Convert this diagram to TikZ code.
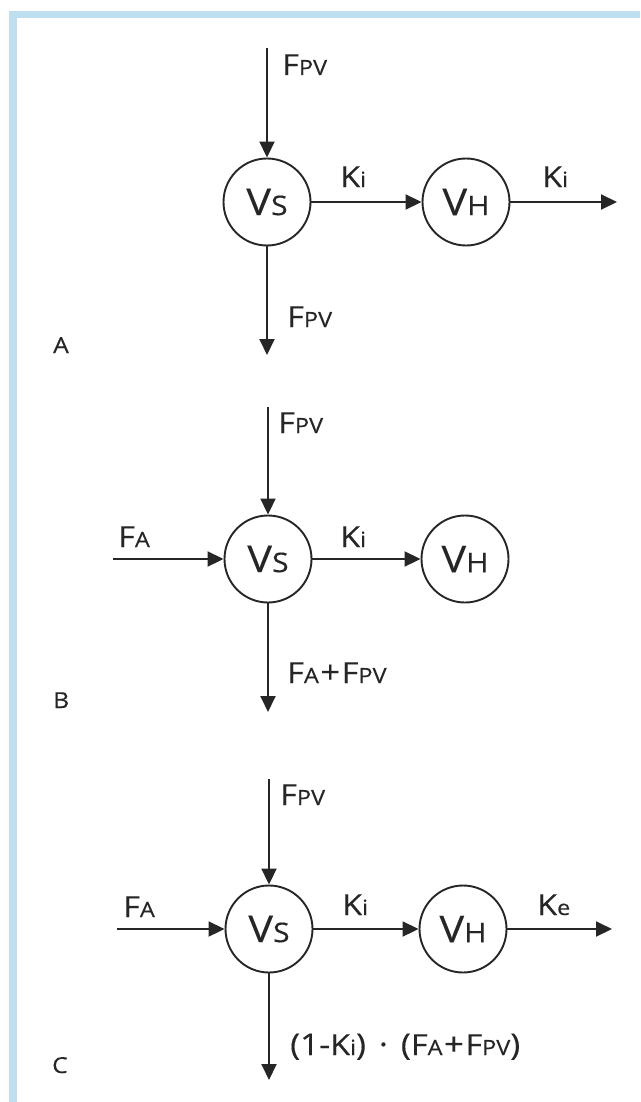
\documentclass[tikz,border=0pt]{standalone}
\usepackage{fontspec}
\setmainfont{Open Sans}[FakeStretch=1.12,FakeBold=0.3]
\usetikzlibrary{arrows.meta}
\definecolor{inkc}{HTML}{262626}
\definecolor{bandc}{HTML}{BEDFF0}
\newcommand\lbl[2]{{\fontsize{29}{29}\selectfont #1}{\fontsize{21}{21}\selectfont #2}}
\newcommand\nlbl[2]{{\fontsize{37}{37}\selectfont #1}{\fontsize{27}{27}\selectfont #2}}
\newcommand\bg[1]{{\fontsize{30}{30}\selectfont #1}}
\newcommand\plusop{\hspace{1.5pt}{\fontsize{31}{31}\selectfont +}\hspace{1.5pt}}
\tikzset{
  pool/.style={circle, draw=inkc, line width=1.9pt, minimum size=87pt, inner sep=0pt, text=inkc},
  flow/.style={draw=inkc, line width=1.9pt, -{Triangle[length=16pt,width=15pt]}},
  tag/.style={anchor=base west, inner sep=0pt, text=inkc},
  panel/.style={anchor=base west, inner sep=0pt, text=inkc, font=\fontsize{22}{22}\selectfont}
}
\begin{document}
\begin{tikzpicture}[x=1pt,y=-1pt]
\useasboundingbox (0,0) rectangle (640,1102);
\fill[white] (0,0) rectangle (640,1102);
\fill[bandc] (9,11) rectangle (640,18);
\fill[bandc] (9,11) rectangle (17,1102);

% ---------- Panel A ----------
\node[pool] (vsA) at (267,202) {\nlbl{V}{S}};
\node[pool] (vhA) at (466,202) {\nlbl{V}{H}};
\coordinate (inA) at (267,48);
\coordinate (outA) at (267,355);
\coordinate (exA) at (617,202);
\draw[flow] (inA) -- (vsA);
\draw[flow] (vsA) -- (vhA);
\draw[flow] (vhA) -- (exA);
\draw[flow] (vsA) -- (outA);
\node[tag] (fpvA) at (282,75) {\lbl{F}{PV}};
\node[tag] (kiA) at (340,187) {\lbl{K}{i}};
\node[tag] (kiA2) at (542,187) {\lbl{K}{i}};
\node[tag] (fpvA2) at (287,327) {\lbl{F}{PV}};
\node[panel] (pA) at (53,353) {A};

% ---------- Panel B ----------
\node[pool] (vsB) at (268,559) {\nlbl{V}{S}};
\node[pool] (vhB) at (465,559) {\nlbl{V}{H}};
\coordinate (inB) at (268,407);
\coordinate (faB) at (113,559);
\coordinate (outB) at (268,712);
\draw[flow] (inB) -- (vsB);
\draw[flow] (faB) -- (vsB);
\draw[flow] (vsB) -- (vhB);
\draw[flow] (vsB) -- (outB);
\node[tag] (fpvB) at (278,433) {\lbl{F}{PV}};
\node[tag] (faBl) at (118,547) {\lbl{F}{A}};
\node[tag] (kiB) at (340,547) {\lbl{K}{i}};
\node[tag] (sumB) at (287,683) {\lbl{F}{A}\plusop\lbl{F}{PV}};
\node[panel] (pB) at (53,708) {B};

% ---------- Panel C ----------
\node[pool] (vsC) at (269,929) {\nlbl{V}{S}};
\node[pool] (vhC) at (463,929) {\nlbl{V}{H}};
\coordinate (inC) at (269,779);
\coordinate (faC) at (117,929);
\coordinate (outC) at (269,1080);
\coordinate (exC) at (612,929);
\draw[flow] (inC) -- (vsC);
\draw[flow] (faC) -- (vsC);
\draw[flow] (vsC) -- (vhC);
\draw[flow] (vhC) -- (exC);
\draw[flow] (vsC) -- (outC);
\node[tag] (fpvC) at (280,805) {\lbl{F}{PV}};
\node[tag] (faCl) at (123,917) {\lbl{F}{A}};
\node[tag] (kiC) at (342,915) {\lbl{K}{i}};
\node[tag] (keC) at (537,915) {\lbl{K}{e}};
\node[tag] (sumC) at (290,1055) {\bg{(1-}\lbl{K}{i}\bg{)\hspace{13pt}·\hspace{13pt}(}\lbl{F}{A}\plusop\lbl{F}{PV}\bg{)}};
\node[panel] (pC) at (52,1073) {C};
\end{tikzpicture}
\end{document}
